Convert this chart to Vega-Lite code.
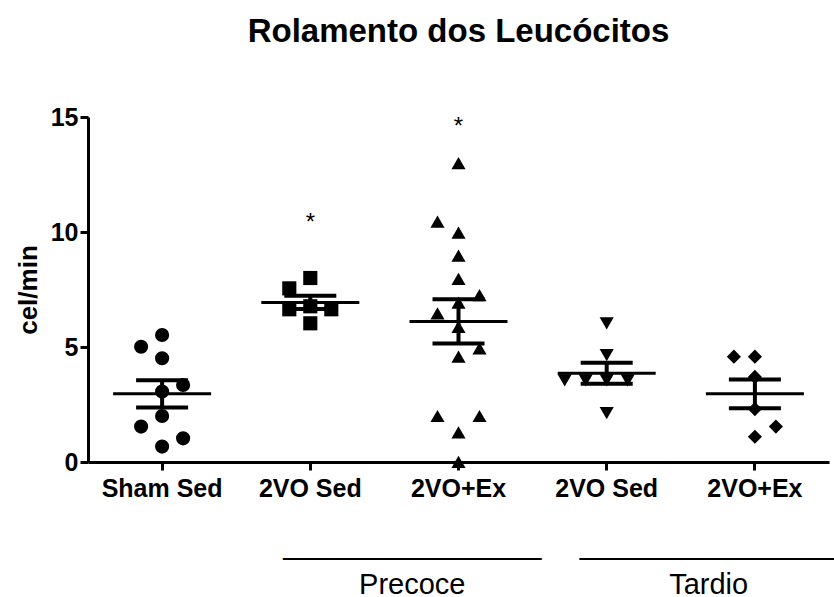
{
  "$schema": "https://vega.github.io/schema/vega-lite/v6.json",
  "width": 741,
  "height": 345,
  "autosize": {"type": "none"},
  "padding": {"left": 88, "top": 117, "right": 5, "bottom": 135},
  "background": "white",
  "config": {
    "view": {"stroke": null},
    "font": "Liberation Sans",
    "axis": {
      "domainColor": "black", "domainWidth": 3, "tickColor": "black", "tickWidth": 3, "tickSize": 8,
      "labelFont": "Liberation Sans", "labelFontWeight": "bold", "labelFontSize": 25, "labelColor": "black",
      "grid": false, "titleFont": "Liberation Sans", "titleFontWeight": "bold", "titleFontSize": 26, "titleColor": "black"
    }
  },
  "title": {
    "text": "Rolamento dos Leucócitos", "font": "Liberation Sans", "fontSize": 33, "fontWeight": "bold",
    "color": "black", "anchor": "middle", "offset": 56
  },
  "datasets": {
    "pontos": [
      {"grupo": "Sham Sed", "col": 0, "valor": 5.52},
      {"grupo": "Sham Sed", "col": -1, "valor": 5.01},
      {"grupo": "Sham Sed", "col": 0, "valor": 4.51},
      {"grupo": "Sham Sed", "col": 1, "valor": 3.35},
      {"grupo": "Sham Sed", "col": 0, "valor": 3.06},
      {"grupo": "Sham Sed", "col": 0, "valor": 2.0},
      {"grupo": "Sham Sed", "col": -1, "valor": 1.54},
      {"grupo": "Sham Sed", "col": 1, "valor": 1.03},
      {"grupo": "Sham Sed", "col": 0, "valor": 0.67},
      {"grupo": "2VO Sed (Precoce)", "col": 0, "valor": 8.0},
      {"grupo": "2VO Sed (Precoce)", "col": -1, "valor": 7.55},
      {"grupo": "2VO Sed (Precoce)", "col": 0, "valor": 6.77},
      {"grupo": "2VO Sed (Precoce)", "col": -1, "valor": 6.64},
      {"grupo": "2VO Sed (Precoce)", "col": 1, "valor": 6.64},
      {"grupo": "2VO Sed (Precoce)", "col": 0, "valor": 6.03},
      {"grupo": "2VO+Ex (Precoce)", "col": 0, "valor": 12.99},
      {"grupo": "2VO+Ex (Precoce)", "col": -1, "valor": 10.45},
      {"grupo": "2VO+Ex (Precoce)", "col": 0, "valor": 9.97},
      {"grupo": "2VO+Ex (Precoce)", "col": 0, "valor": 8.97},
      {"grupo": "2VO+Ex (Precoce)", "col": 0, "valor": 7.96},
      {"grupo": "2VO+Ex (Precoce)", "col": 1, "valor": 7.26},
      {"grupo": "2VO+Ex (Precoce)", "col": 0, "valor": 6.93},
      {"grupo": "2VO+Ex (Precoce)", "col": -1, "valor": 6.46},
      {"grupo": "2VO+Ex (Precoce)", "col": 0, "valor": 5.88},
      {"grupo": "2VO+Ex (Precoce)", "col": 1, "valor": 4.94},
      {"grupo": "2VO+Ex (Precoce)", "col": 0, "valor": 4.58},
      {"grupo": "2VO+Ex (Precoce)", "col": -1, "valor": 2.0},
      {"grupo": "2VO+Ex (Precoce)", "col": 1, "valor": 2.0},
      {"grupo": "2VO+Ex (Precoce)", "col": 0, "valor": 1.29},
      {"grupo": "2VO+Ex (Precoce)", "col": 0, "valor": 0.01},
      {"grupo": "2VO Sed (Tardio)", "col": 0, "valor": 6.03},
      {"grupo": "2VO Sed (Tardio)", "col": 0, "valor": 4.65},
      {"grupo": "2VO Sed (Tardio)", "col": -2, "valor": 3.55},
      {"grupo": "2VO Sed (Tardio)", "col": -1, "valor": 3.55},
      {"grupo": "2VO Sed (Tardio)", "col": 0, "valor": 3.55},
      {"grupo": "2VO Sed (Tardio)", "col": 1, "valor": 3.55},
      {"grupo": "2VO Sed (Tardio)", "col": 0, "valor": 2.12},
      {"grupo": "2VO+Ex (Tardio)", "col": -1, "valor": 4.58},
      {"grupo": "2VO+Ex (Tardio)", "col": 0, "valor": 4.58},
      {"grupo": "2VO+Ex (Tardio)", "col": 0, "valor": 3.7},
      {"grupo": "2VO+Ex (Tardio)", "col": 0, "valor": 2.3},
      {"grupo": "2VO+Ex (Tardio)", "col": 1, "valor": 1.54},
      {"grupo": "2VO+Ex (Tardio)", "col": 0, "valor": 1.1}
    ],
    "estrelas": [
      {"grupo": "2VO Sed (Precoce)", "sig": "*", "valor": 10.6},
      {"grupo": "2VO+Ex (Precoce)", "sig": "*", "valor": 14.8}
    ]
  },
  "layer": [
    {
      "data": {"name": "pontos"},
      "mark": {"type": "point", "filled": true, "opacity": 1, "color": "black", "size": 200},
      "encoding": {
        "x": {
          "field": "grupo", "type": "nominal",
          "scale": {"type": "band", "domain": ["Sham Sed", "2VO Sed (Precoce)", "2VO+Ex (Precoce)", "2VO Sed (Tardio)", "2VO+Ex (Tardio)"], "paddingInner": 0, "paddingOuter": 0},
          "axis": {"title": null, "labelAngle": 0, "labelPadding": 6, "labelExpr": "split(datum.label, ' (')[0]"}
        },
        "xOffset": {"field": "col", "type": "quantitative", "scale": {"domain": [-1, 1], "range": [53.1, 95.1]}},
        "y": {
          "field": "valor", "type": "quantitative", "title": "cel/min",
          "scale": {"domain": [0, 15], "nice": false, "zero": false},
          "axis": {"values": [0, 5, 10, 15], "labelPadding": 2, "titlePadding": 9}
        },
        "shape": {
          "field": "grupo", "type": "nominal", "legend": null,
          "scale": {"domain": ["Sham Sed", "2VO Sed (Precoce)", "2VO+Ex (Precoce)", "2VO Sed (Tardio)", "2VO+Ex (Tardio)"], "range": ["circle", "square", "triangle-up", "triangle-down", "diamond"]}
        }
      }
    },
    {
      "data": {"name": "pontos"},
      "mark": {"type": "tick", "color": "black", "opacity": 1, "size": 98, "thickness": 3},
      "encoding": {
        "x": {"field": "grupo", "type": "nominal", "axis": null},
        "y": {"field": "valor", "type": "quantitative", "aggregate": "mean", "title": "cel/min"}
      }
    },
    {
      "data": {"name": "pontos"},
      "mark": {"type": "errorbar", "extent": "stderr", "color": "black", "opacity": 1, "thickness": 4, "rule": {"opacity": 1, "color": "black"}, "ticks": {"size": 52, "thickness": 4, "opacity": 1, "color": "black"}},
      "encoding": {
        "x": {"field": "grupo", "type": "nominal", "axis": null},
        "y": {"field": "valor", "type": "quantitative", "title": "cel/min"}
      }
    },
    {
      "data": {"name": "estrelas"},
      "mark": {"type": "text", "font": "Liberation Sans", "fontSize": 24, "color": "black", "baseline": "alphabetic", "dy": 12},
      "encoding": {
        "x": {
          "field": "grupo", "type": "nominal",
          "axis": {
            "orient": "bottom", "title": null, "domain": false, "ticks": false, "labelAngle": 0,
            "values": ["2VO Sed (Precoce)", "2VO Sed (Tardio)"],
            "labelExpr": "['________________', indexof(datum.label, 'Precoce') >= 0 ? 'Precoce' : 'Tardio']",
            "labelFontWeight": "normal", "labelFontSize": 29, "labelLineHeight": 40,
            "labelOffset": 102, "offset": 64, "labelPadding": 4, "labelLimit": 0, "labelOverlap": false, "labelBound": false, "labelFlush": false
          }
        },
        "y": {"field": "valor", "type": "quantitative", "title": "cel/min"},
        "text": {"field": "sig"}
      }
    }
  ],
  "resolve": {"axis": {"x": "independent"}}
}
